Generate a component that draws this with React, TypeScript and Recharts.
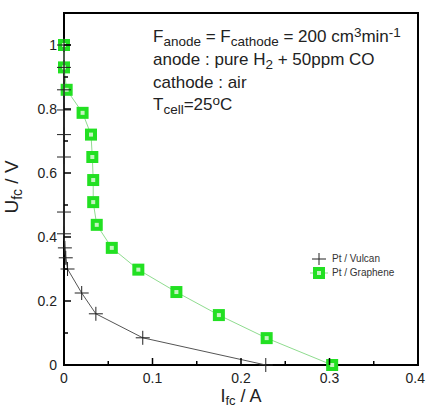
import React from 'react';
import {
  ScatterChart,
  Scatter,
  XAxis,
  YAxis,
  ReferenceArea,
  Legend,
  Label,
} from 'recharts';

// Pt / Graphene polarisation curve
const grapheneI = [0, 0, 0.003, 0.021, 0.0305, 0.032, 0.033, 0.033, 0.037, 0.054, 0.084, 0.127, 0.175, 0.229, 0.303];
const grapheneU = [1.0, 0.93, 0.86, 0.788, 0.72, 0.65, 0.578, 0.509, 0.438, 0.366, 0.298, 0.228, 0.156, 0.084, 0];

// Pt / Vulcan polarisation curve
const vulcanI = [0, 0, 0, 0, 0, 0, 0, 0, 0.001, 0.002, 0.004, 0.02, 0.036, 0.089, 0.228];
const vulcanU = [1.0, 0.93, 0.86, 0.797, 0.72, 0.65, 0.478, 0.41, 0.366, 0.335, 0.3, 0.225, 0.16, 0.085, 0];

const xTicks = [0, 0.05, 0.1, 0.15, 0.2, 0.25, 0.3, 0.35, 0.4];
const yTicks = [0, 0.1, 0.2, 0.3, 0.4, 0.5, 0.6, 0.7, 0.8, 0.9, 1];

const seriesNames = ['Pt / Vulcan', 'Pt / Graphene'];

const grapheneData = grapheneI.map((x, i) => ({ x, y: grapheneU[i] }));
const vulcanData = vulcanI.map((x, i) => ({ x, y: vulcanU[i] }));

const FONT = '"Liberation Sans", Arial, sans-serif';
const TEXT = '#222';
const CHART_W = 426;

const isMajor = (v: number, step: number) => Math.round(v / step) % 2 === 0;

// ticks are drawn inward, labels outside
const YTick = (props: any) => {
  const { x, y, payload } = props;
  const v = payload.value as number;
  const major = isMajor(v, 0.1);
  const ax = x + 7;
  return (
    <g>
      <line x1={ax} x2={ax + (major ? 7 : 4)} y1={y} y2={y} stroke="#000" strokeWidth={1.5} />
      {major && (
        <text x={x} y={y} dy="0.35em" textAnchor="end" fontSize={14} fill={TEXT} fontFamily={FONT}>
          {String(v)}
        </text>
      )}
    </g>
  );
};

const XTick = (props: any) => {
  const { x, y, payload } = props;
  const v = payload.value as number;
  const major = isMajor(v, 0.05);
  const ay = y - 8;
  // keep the last label inside the page
  const nearEdge = x + 11 > CHART_W;
  return (
    <g>
      <line x1={x} x2={x} y1={ay} y2={ay - (major ? 7 : 4)} stroke="#000" strokeWidth={1.5} />
      {major && (
        <text
          x={nearEdge ? CHART_W - 1 : x}
          y={y}
          dy="0.71em"
          textAnchor={nearEdge ? 'end' : 'middle'}
          fontSize={14}
          fill={TEXT}
          fontFamily={FONT}
        >
          {String(v)}
        </text>
      )}
    </g>
  );
};

const Cross = (props: any) => {
  const { cx, cy } = props;
  if (cx == null || cy == null) return null;
  return (
    <g stroke="#222" strokeWidth={1}>
      <line x1={cx - 7} x2={cx + 7} y1={cy} y2={cy} />
      <line x1={cx} x2={cx} y1={cy - 7} y2={cy + 7} />
    </g>
  );
};

const GreenSquare = (props: any) => {
  const { cx, cy } = props;
  if (cx == null || cy == null) return null;
  return (
    <g>
      <rect x={cx - 6} y={cy - 6} width={12} height={12} fill="#22e022" />
      <rect x={cx - 2} y={cy - 2} width={4} height={4} fill="#c4f4c0" />
    </g>
  );
};

const LegendBox = () => (
  <div style={{ fontFamily: FONT, fontSize: 10, color: '#333', lineHeight: '14px' }}>
    <div style={{ display: 'flex', alignItems: 'center' }}>
      <svg width={20} height={14}>
        <line x1={2} x2={16} y1={7} y2={7} stroke="#222" />
        <line x1={9} x2={9} y1={1} y2={13} stroke="#222" />
      </svg>
      <span style={{ marginLeft: 2 }}>{seriesNames[0]}</span>
    </div>
    <div style={{ display: 'flex', alignItems: 'center' }}>
      <svg width={20} height={14}>
        <line x1={0} x2={18} y1={7} y2={7} stroke="#8fdc8f" />
        <rect x={3} y={1} width={12} height={12} fill="#22e022" />
        <rect x={7} y={5} width={4} height={4} fill="#c4f4c0" />
      </svg>
      <span style={{ marginLeft: 2 }}>{seriesNames[1]}</span>
    </div>
  </div>
);

const sub = { fontSize: 13.5, position: 'relative' as const, top: 4 };
const sup = { fontSize: 13.5, position: 'relative' as const, top: -5 };

export default function App() {
  return (
    <div style={{ position: 'absolute', left: 0, top: 0, width: CHART_W, height: 408, background: '#fff' }}>
      <ScatterChart
        width={CHART_W}
        height={408}
        margin={{ top: 13, right: 8, bottom: 3, left: 0 }}
        style={{ fontFamily: FONT }}
      >
        <XAxis
          type="number"
          dataKey="x"
          domain={[0, 0.4]}
          ticks={xTicks}
          tickSize={0}
          tickMargin={8}
          tick={<XTick />}
          tickLine={false}
          axisLine={{ stroke: '#000', strokeWidth: 2 }}
          height={40}
          interval={0}
        >
          <Label
            content={() => (
              <text x={241} y={402} textAnchor="middle" fontSize={18} fill={TEXT} fontFamily={FONT}>
                I
                <tspan fontSize={13} dy={3}>fc</tspan>
                <tspan dy={-3}> / A</tspan>
              </text>
            )}
          />
        </XAxis>
        <YAxis
          type="number"
          dataKey="y"
          domain={[0, 1.1]}
          ticks={yTicks}
          tickSize={0}
          tickMargin={7}
          tick={<YTick />}
          tickLine={false}
          axisLine={{ stroke: '#000', strokeWidth: 2 }}
          width={64}
          interval={0}
        >
          <Label
            content={() => (
              <text
                x={18}
                y={187}
                textAnchor="middle"
                fontSize={19}
                fill={TEXT}
                fontFamily={FONT}
                transform="rotate(-90 18 187)"
              >
                U
                <tspan fontSize={14} dy={4}>fc</tspan>
                <tspan dy={-4}> / V</tspan>
              </text>
            )}
          />
        </YAxis>
        <ReferenceArea x1={0} x2={0.4} y1={0} y2={1.1} fill="none" stroke="#000" strokeWidth={2} />
        <Scatter
          name={seriesNames[1]}
          data={grapheneData}
          line={{ stroke: '#8fdc8f', strokeWidth: 1 }}
          lineType="joint"
          shape={<GreenSquare />}
          isAnimationActive={false}
        />
        <Scatter
          name={seriesNames[0]}
          data={vulcanData}
          line={{ stroke: '#555', strokeWidth: 1 }}
          lineType="joint"
          shape={<Cross />}
          isAnimationActive={false}
        />
        <Legend
          layout="horizontal"
          verticalAlign="middle"
          align="center"
          content={<LegendBox />}
          wrapperStyle={{ left: 310, top: 252, width: 100, height: 30 }}
        />
      </ScatterChart>
      <div
        style={{
          position: 'absolute',
          left: 153,
          top: 26,
          fontFamily: FONT,
          fontSize: 17,
          lineHeight: '22px',
          color: TEXT,
          whiteSpace: 'nowrap',
        }}
      >
        <div>
          F<span style={sub}>anode</span> = F<span style={sub}>cathode</span> = 200 cm
          <span style={sup}>3</span>min<span style={sup}>-1</span>
        </div>
        <div>
          anode : pure H<span style={sub}>2</span> + 50ppm CO
        </div>
        <div>cathode : air</div>
        <div>
          T<span style={sub}>cell</span>=25<span style={sup}>o</span>C
        </div>
      </div>
    </div>
  );
}
